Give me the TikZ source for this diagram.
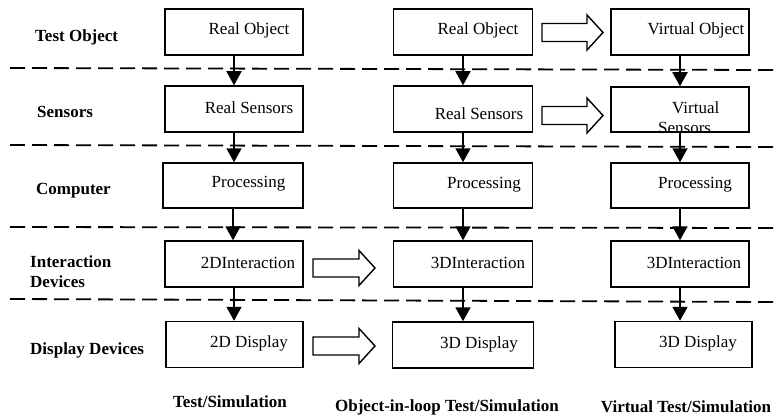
\documentclass[tikz,border=0pt]{standalone}
\usepackage{fontspec}
\setmainfont{Liberation Serif}
\usetikzlibrary{arrows.meta,calc}
\tikzset{box/.style={draw, line width=1.5pt, minimum height=46pt, inner sep=0pt}, txt/.style={font=\fontsize{17}{20}\selectfont, inner sep=0pt, yshift=-1.5pt}, lab/.style={font=\fontsize{17}{20}\selectfont\bfseries, inner sep=0pt}, flow/.style={-{Triangle[length=14pt,width=15pt]}, line width=1.8pt}, sep/.style={dash pattern=on 15pt off 7pt, line width=1.8pt}, fat/.style={draw, line width=1.4pt, fill=white, line join=miter}}
\newcommand{\fatarr}[3]{\draw[fat] (#1,#3-9) -- (#2-16,#3-9) -- (#2-16,#3-17.5) -- (#2,#3) -- (#2-16,#3+17.5) -- (#2-16,#3+9) -- (#1,#3+9) -- cycle;}

\begin{document}
\begin{tikzpicture}[x=1pt,y=-1pt]
\useasboundingbox (0,0) rectangle (778,417);
% layer borders
\draw[sep] (10,68)--(773,70); \draw[sep] (10,145)--(773,147);
\draw[sep] (10,227)--(773,228); \draw[sep] (10,299)--(773,302);
% row labels
\node[lab,anchor=west] (lobj) at (35,37) {Test Object};
\node[lab,anchor=west] (lsen) at (37,112) {Sensors};
\node[lab,anchor=west] (lcom) at (36,191) {Computer};
\node[lab,anchor=west,align=left] (lint) at (30,271.5) {Interaction\\Devices};
\node[lab,anchor=west] (ldis) at (30,350) {Display Devices};
% column 1
\node[box,minimum width=138pt] (o1) at (234,32) {}; \node[txt] (to1) at (249,29) {Real Object};
\node[box,minimum width=138pt] (s1) at (234,109) {}; \node[txt] (ts1) at (249,106) {Real Sensors};
\node[box,minimum width=140pt,minimum height=45pt] (p1) at (233,185.5) {}; \node[txt] (tp1) at (248.5,182) {Processing};
\node[box,minimum width=138pt] (i1) at (234,264) {}; \node[txt] (ti1) at (248,261) {2DInteraction};
\node[box,minimum width=137pt] (d1) at (234.5,344.5) {}; \node[txt] (td1) at (249,342) {2D Display};
% column 2
\node[box,minimum width=139pt] (o2) at (463,32) {}; \node[txt] (to2) at (478,29) {Real Object};
\node[box,minimum width=139pt] (s2) at (463,109) {}; \node[txt] (ts2) at (479,112) {Real Sensors};
\node[box,minimum width=139pt,minimum height=45pt] (p2) at (463,185.5) {}; \node[txt] (tp2) at (484,183) {Processing};
\node[box,minimum width=139pt] (i2) at (463,264) {}; \node[txt] (ti2) at (478,261) {3DInteraction};
\node[box,minimum width=141pt] (d2) at (463,345) {}; \node[txt] (td2) at (479,343) {3D Display};
% column 3
\node[box,minimum width=138pt] (o3) at (680,32) {}; \node[txt] (to3) at (696,29) {Virtual Object};
\node[box,minimum width=138pt,minimum height=45pt] (s3) at (680,109.5) {}; \node[txt,anchor=west,align=left] (ts3) at (658,116) {\hspace*{14pt}Virtual\\Sensors};
\node[box,minimum width=138pt,minimum height=45pt] (p3) at (680,185.5) {}; \node[txt] (tp3) at (695,183) {Processing};
\node[box,minimum width=138pt] (i3) at (680,264) {}; \node[txt] (ti3) at (694,261) {3DInteraction};
\node[box,minimum width=137pt] (d3) at (683.5,344.5) {}; \node[txt] (td3) at (698,342) {3D Display};
% flow down
\foreach \c in {1,2,3} {
  \draw[flow] (o\c.south) -- (o\c.south |- s\c.north);
  \draw[flow] (s\c.south) -- (s\c.south |- p\c.north);
  \draw[flow] (p\c.south) -- (p\c.south |- i\c.north);
  \draw[flow] (i\c.south) -- (i\c.south |- d\c.north);
}
% replacements
\fatarr{542}{603}{32.5} \fatarr{542}{603}{115.5}
\fatarr{313}{375}{268} \fatarr{313}{375}{346}
% column titles
\node[lab] (c1) at (230,402) {Test/Simulation};
\node[lab] (c2) at (447,407) {Object-in-loop Test/Simulation};
\node[lab] (c3) at (686,407) {Virtual Test/Simulation};
\end{tikzpicture}
\end{document}
